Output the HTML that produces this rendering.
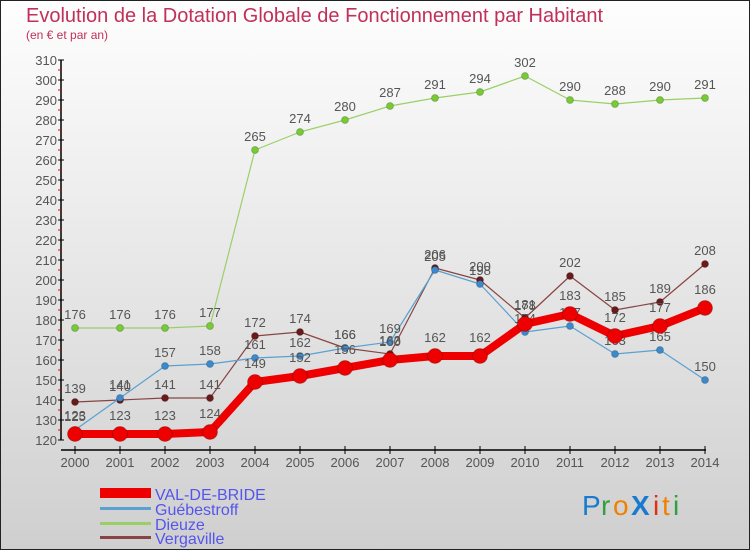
<!DOCTYPE html>
<html><head><meta charset="utf-8"><style>
body{margin:0;}
svg{display:block;font-family:"Liberation Sans","DejaVu Sans",sans-serif;}
</style></head><body>
<svg id="c" width="750" height="550">
<defs><linearGradient id="bg" x1="0" y1="0" x2="0" y2="1"><stop offset="0" stop-color="#fefefe"/><stop offset="1" stop-color="#cfcfcf"/></linearGradient></defs>
<rect x="0.5" y="0.5" width="749" height="549" fill="url(#bg)" stroke="#222"/>
<text x="26" y="22" font-size="20" fill="#c0305a">Evolution de la Dotation Globale de Fonctionnement par Habitant</text>
<text x="26" y="39" font-size="12" fill="#c0305a">(en € et par an)</text>
<g id="axes"></g><g id="series"></g>
<g>
<rect x="100" y="488" width="51" height="10" fill="#ee0000"/>
<text x="155" y="500" font-size="16" fill="#5555ee">VAL-DE-BRIDE</text>
<rect x="100" y="507" width="51" height="3" fill="#5aa0d0"/>
<text x="155" y="515" font-size="16" fill="#5555ee">Guébestroff</text>
<rect x="100" y="522" width="51" height="3" fill="#99d066"/>
<text x="155" y="530" font-size="16" fill="#5555ee">Dieuze</text>
<rect x="100" y="536" width="51" height="3" fill="#884444"/>
<text x="155" y="544" font-size="16" fill="#5555ee">Vergaville</text>
</g>
<g font-size="28">
<text x="582" y="515" fill="#1a7ad0">P</text><text x="601" y="515" fill="#30a040">r</text><text x="613" y="515" fill="#f08000">o</text><text x="631" y="515" fill="#1a7ad0" font-weight="bold">X</text><text x="653" y="515" fill="#e03010">i</text><text x="662" y="515" fill="#f08000">t</text><text x="673" y="515" fill="#30a040">i</text>
</g>
</svg>
<script>
const years=["2000","2001","2002","2003","2004","2005","2006","2007","2008","2009","2010","2011","2012","2013","2014"];
const valDeBride=[123,123,123,124,149,152,156,160,162,162,178,183,172,177,186];
const guebestroff=[125,141,157,158,161,162,166,169,205,198,174,177,163,165,150];
const dieuze=[176,176,176,177,265,274,280,287,291,294,302,290,288,290,291];
const vergaville=[139,140,141,141,172,174,166,163,206,200,181,202,185,189,208];
const yTicks=[120,130,140,150,160,170,180,190,200,210,220,230,240,250,260,270,280,290,300,310];
const NS="http://www.w3.org/2000/svg";
const X=i=>75+i*45;
const Y=v=>440-(v-120)*2;
function mk(t,a,p){const e=document.createElementNS(NS,t);for(const k in a)e.setAttribute(k,a[k]);p.appendChild(e);return e;}
const ax=document.getElementById('axes');
mk('line',{x1:61,y1:60,x2:61,y2:440,stroke:'#000','stroke-width':1.5},ax);
mk('line',{x1:61,y1:450,x2:706,y2:450,stroke:'#000','stroke-width':1.5},ax);
yTicks.forEach(v=>{
 const l=mk('line',{x1:58,y1:Y(v),x2:64,y2:Y(v),stroke:'#000'},ax);
 
 
 if(v<310){const m=mk('line',{x1:58,y1:Y(v+5),x2:61,y2:Y(v+5),stroke:'#e00'},ax);
 
 }
 const t=mk('text',{x:57,y:Y(v)+5,'font-size':13,fill:'#555','text-anchor':'end'},ax);
 
 
 t.textContent=v;
});
years.forEach((y,i)=>{
 const l=mk('line',{x1:X(i),y1:446,x2:X(i),y2:454,stroke:'#000'},ax);
 
 
 const t=mk('text',{x:X(i),y:467,'font-size':13,fill:'#555','text-anchor':'middle'},ax);
 
 
 t.textContent=y;
});
const sg=document.getElementById('series');
function draw(name,data,color,w,r,dot,labelOffset){
 const g=mk('g',{},sg);
 
 
 const p=mk('polyline',{points:data.map((v,i)=>X(i)+','+Y(v)).join(' '),fill:'none',stroke:color,'stroke-width':w,'stroke-linejoin':'round'},g);
 
 
 data.forEach((v,i)=>{
  const c=mk('circle',{cx:X(i),cy:Y(v),r:r,fill:dot,stroke:'rgba(0,0,0,0.2)'},g);
  
  
  const t=mk('text',{x:X(i),y:Y(v)-labelOffset,'font-size':13,fill:'#555','text-anchor':'middle'},g);
  
  
  t.textContent=v;
 });
}
draw('dieuze',dieuze,'#99d066',1.2,3.5,'#77cc33',9);
draw('vergaville',vergaville,'#884444',1.2,3.5,'#6a1a1a',9);
draw('guebestroff',guebestroff,'#5aa0d0',1.2,3.5,'#3a8ad0',9);
draw('val-de-bride',valDeBride,'#ee0000',8,7.5,'#ee0000',14);
</script>
</body></html>
